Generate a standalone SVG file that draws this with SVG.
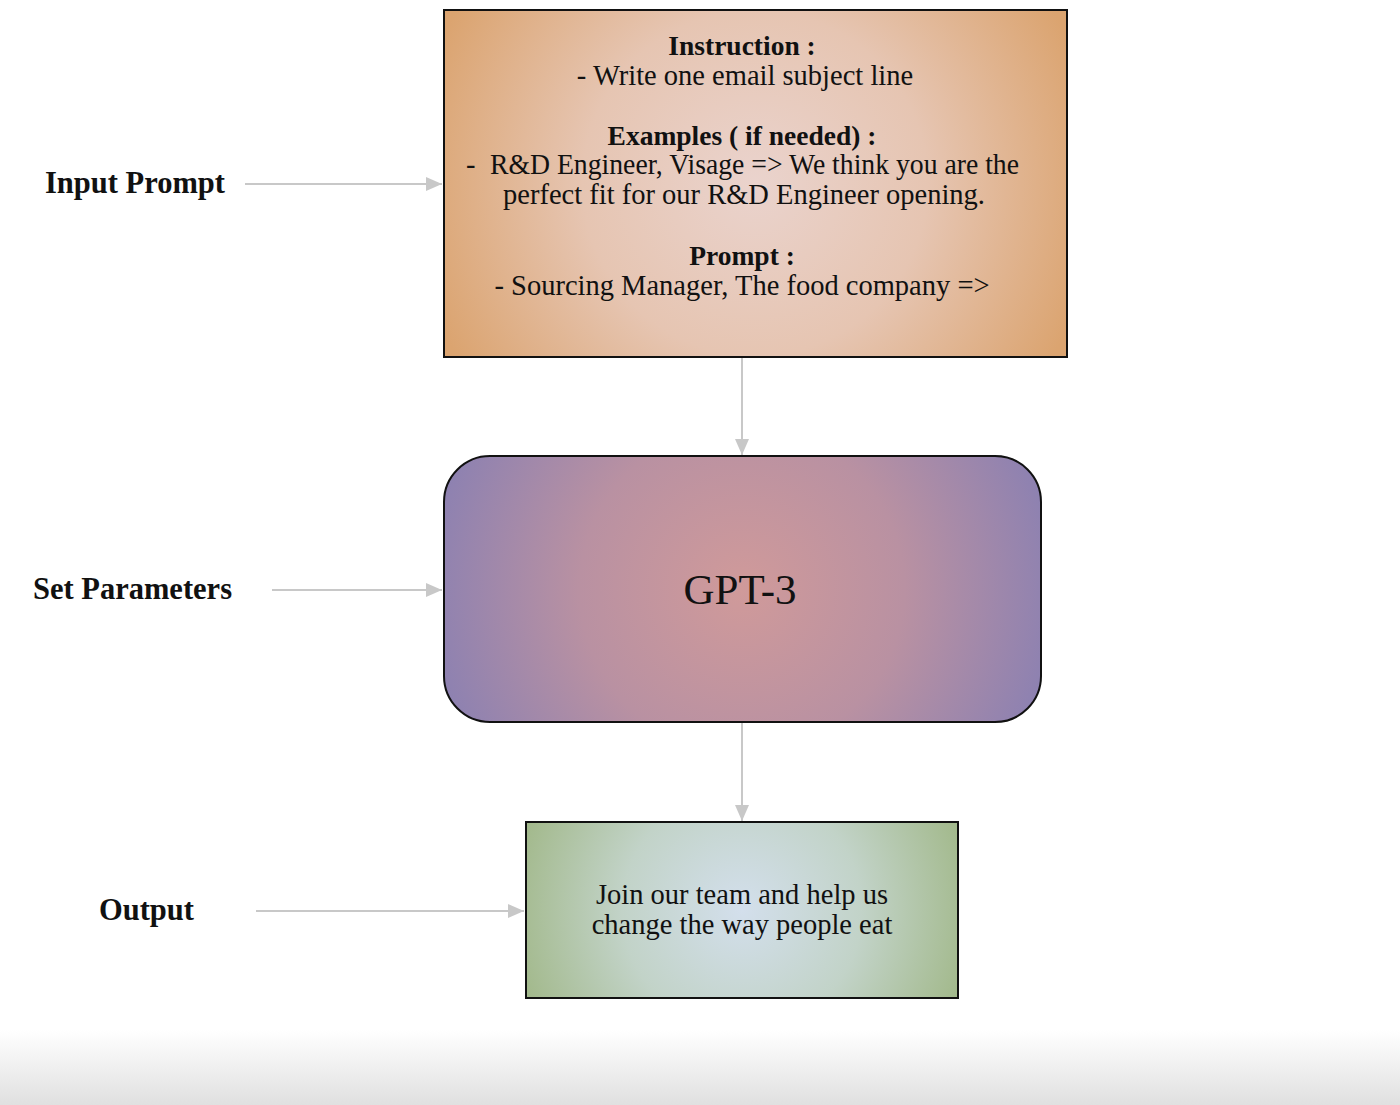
<svg xmlns="http://www.w3.org/2000/svg" width="1400" height="1105" viewBox="0 0 1400 1105">
<style>
  text { font-family: "Liberation Serif", "DejaVu Serif", serif; fill: #111; }
  .lbl { font-size: 30.5px; font-weight: bold; }
  .t { font-size: 28.5px; text-anchor: middle; }
  .l { font-size: 28.5px; }
  .b { font-weight: bold; font-size: 27.5px; }
  .conn { stroke: #c8c8c8; stroke-width: 2; fill: none; }
  .box { stroke: #111; stroke-width: 2; }
</style>
<defs>
  <marker id="ah" viewBox="0 0 16 14" refX="16" refY="7" markerWidth="16" markerHeight="14" markerUnits="userSpaceOnUse" orient="auto">
    <path d="M0,0 L16,7 L0,14 Z" fill="#c8c8c8"/>
  </marker>
  <radialGradient id="gOrange" gradientUnits="userSpaceOnUse" cx="755" cy="183" r="345">
    <stop offset="0" stop-color="#ead3cd"/>
    <stop offset="0.5" stop-color="#e6c5b2"/>
    <stop offset="1" stop-color="#dba470"/>
  </radialGradient>
  <radialGradient id="gPurple" gradientUnits="userSpaceOnUse" cx="742" cy="589" r="325">
    <stop offset="0" stop-color="#d09a9a"/>
    <stop offset="0.5" stop-color="#b991a2"/>
    <stop offset="1" stop-color="#8a80b2"/>
  </radialGradient>
  <radialGradient id="gGreen" gradientUnits="userSpaceOnUse" cx="742" cy="910" r="240">
    <stop offset="0" stop-color="#d3dfec"/>
    <stop offset="0.5" stop-color="#c2d3c8"/>
    <stop offset="1" stop-color="#a0b787"/>
  </radialGradient>
  <linearGradient id="gBottom" x1="0" y1="0" x2="0" y2="1">
    <stop offset="0" stop-color="#ffffff"/>
    <stop offset="1" stop-color="#e0e0e0"/>
  </linearGradient>
</defs>
<rect x="0" y="0" width="1400" height="1105" fill="#ffffff"/>
<rect x="0" y="1030" width="1400" height="75" fill="url(#gBottom)"/>

<g id="connectors">
  <line class="conn" x1="245" y1="184" x2="442" y2="184" marker-end="url(#ah)"/>
  <line class="conn" x1="272" y1="590" x2="442" y2="590" marker-end="url(#ah)"/>
  <line class="conn" x1="256" y1="911" x2="524" y2="911" marker-end="url(#ah)"/>
  <line class="conn" x1="742" y1="358" x2="742" y2="455" marker-end="url(#ah)"/>
  <line class="conn" x1="742" y1="723" x2="742" y2="821" marker-end="url(#ah)"/>
</g>

<g id="label-input-prompt">
  <text class="lbl" x="45" y="193">Input Prompt</text>
</g>
<g id="label-set-parameters">
  <text class="lbl" x="33" y="599">Set Parameters</text>
</g>
<g id="label-output">
  <text class="lbl" x="99" y="920">Output</text>
</g>

<g id="node-prompt">
  <rect class="box" x="444" y="10" width="623" height="347" fill="url(#gOrange)"/>
  <text class="t b" x="742" y="55">Instruction :</text>
  <text class="t" x="745" y="85">- Write one email subject line</text>
  <text class="t b" x="742" y="145">Examples ( if needed) :</text>
  <text class="l" x="466" y="174">-</text>
  <text class="l" x="490" y="174" textLength="529" lengthAdjust="spacingAndGlyphs">R&amp;D Engineer, Visage =&gt; We think you are the</text>
  <text class="l" x="503" y="204">perfect fit for our R&amp;D Engineer opening.</text>
  <text class="t b" x="742" y="265">Prompt :</text>
  <text class="t" x="742" y="295">- Sourcing Manager, The food company =&gt;</text>
</g>

<g id="node-gpt3">
  <rect class="box" x="444" y="456" width="597" height="266" rx="46" ry="46" fill="url(#gPurple)"/>
  <text x="740" y="604" style="font-size:43px; text-anchor:middle">GPT-3</text>
</g>

<g id="node-output">
  <rect class="box" x="526" y="822" width="432" height="176" fill="url(#gGreen)"/>
  <text class="t" x="742" y="904">Join our team and help us</text>
  <text class="t" x="742" y="934">change the way people eat</text>
</g>
</svg>
